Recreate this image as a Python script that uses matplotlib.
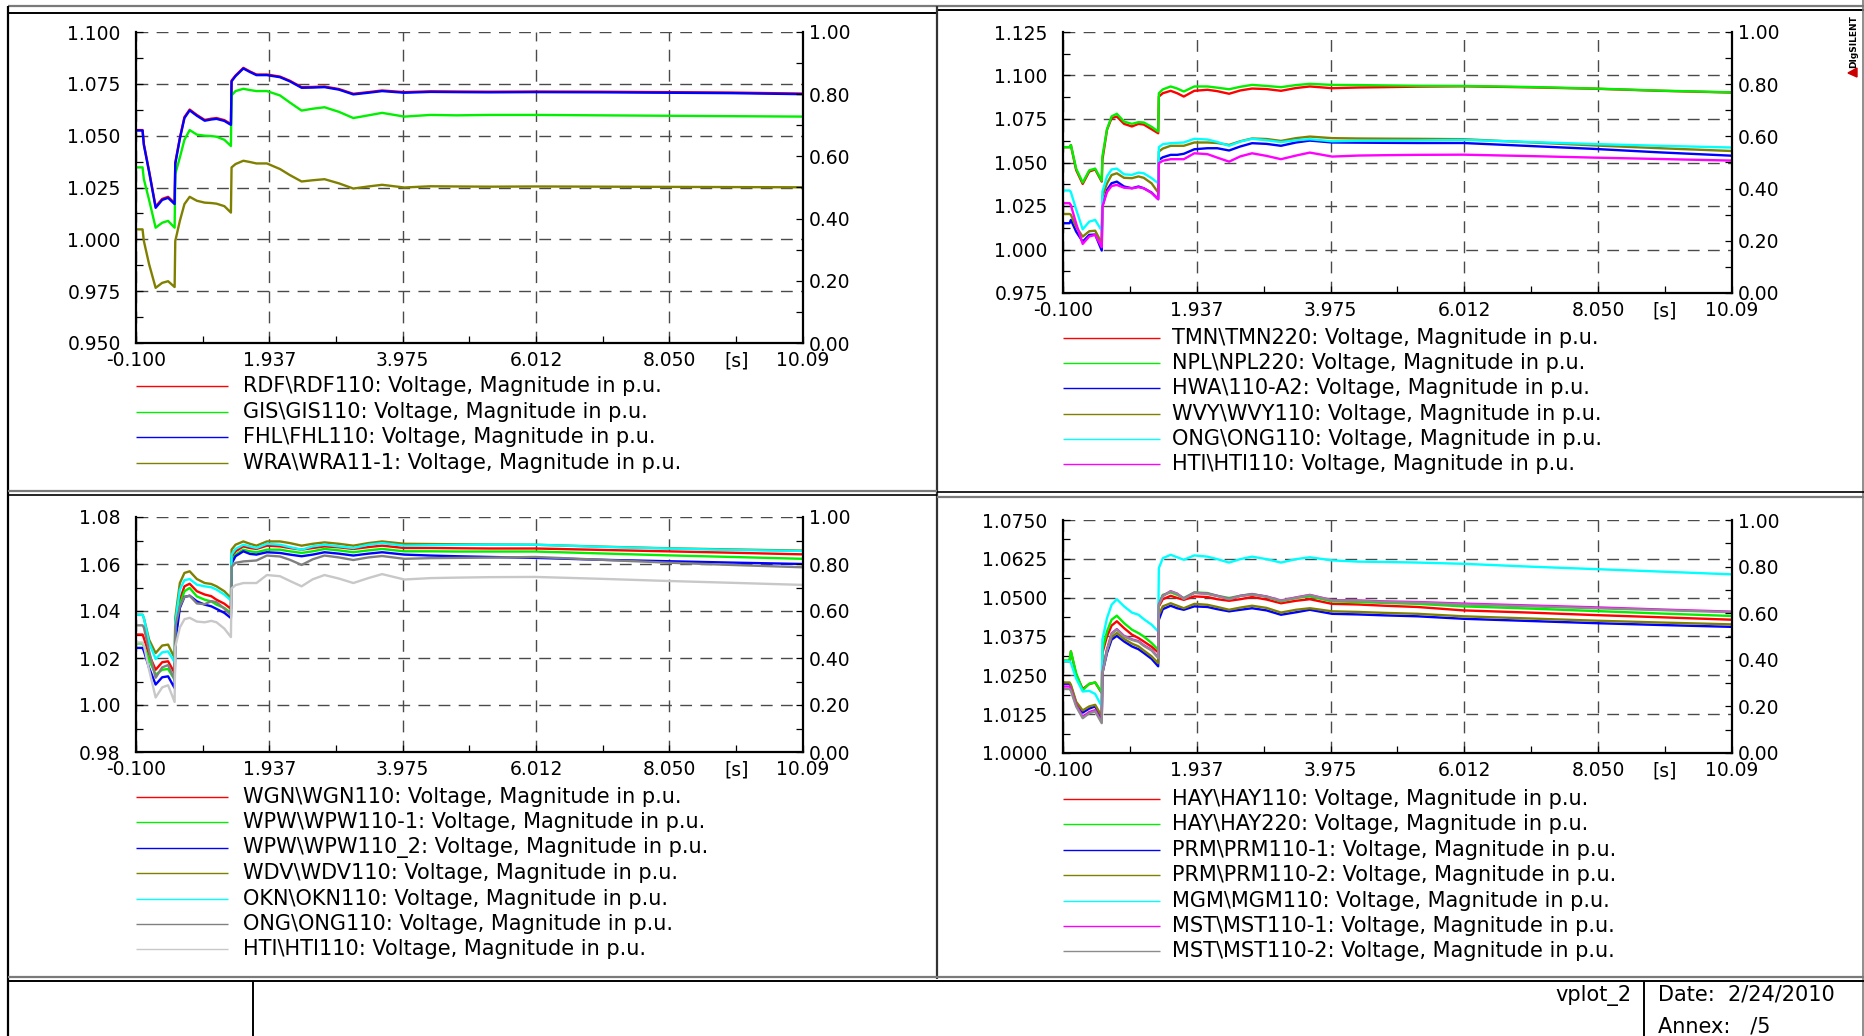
import matplotlib
matplotlib.use("Agg")
import matplotlib.pyplot as plt
from matplotlib.lines import Line2D
from matplotlib.patches import Polygon
from matplotlib.ticker import FixedLocator, FixedFormatter, MultipleLocator, FormatStrFormatter

plt.rcParams['font.family'] = ['DejaVu Sans']

W, H = 1865, 1036

# simulation time [s]
t = [-0.1, 0.0, 0.02, 0.1, 0.2, 0.3, 0.39,
     0.49, 0.5, 0.57, 0.64, 0.72, 0.83, 0.95,
     1.05, 1.13, 1.25, 1.35, 1.36, 1.42, 1.54,
     1.64, 1.74, 1.9, 2.1, 2.25, 2.43, 2.6,
     2.78, 3.0, 3.22, 3.45, 3.66, 4.0, 4.4,
     4.8, 5.3, 6.0, 7.0, 8.0, 9.0, 10.09]

x_major = [-0.1, 1.937, 3.975, 6.012, 8.050, 10.09]
x_labels = ['-0.100', '1.937', '3.975', '6.012', '8.050', '10.09']
x_minor = [0.9185, 2.956, 4.9935, 7.031, 9.07]
x_minor_labels = ['', '', '', '', '[s]']

suffix = ': Voltage, Magnitude in p.u.'

# --- plot 1 ---
rdf110 = [1.0527, 1.0527, 1.0460, 1.0330, 1.0158, 1.0195, 1.0205,
          1.0175, 1.0370, 1.0490, 1.0590, 1.0626, 1.0600, 1.0576,
          1.0582, 1.0585, 1.0575, 1.0556, 1.0766, 1.0790, 1.0827,
          1.0810, 1.0795, 1.0795, 1.0785, 1.0765, 1.0734, 1.0735,
          1.0737, 1.0725, 1.0702, 1.0710, 1.0718, 1.0710, 1.0714,
          1.0713, 1.0712, 1.0713, 1.0712, 1.0710, 1.0708, 1.0703]
gis110 = [1.0347, 1.0347, 1.0290, 1.0190, 1.0056, 1.0080, 1.0089,
          1.0056, 1.0315, 1.0395, 1.0480, 1.0527, 1.0505, 1.0500,
          1.0498, 1.0495, 1.0480, 1.0450, 1.0694, 1.0715, 1.0726,
          1.0720, 1.0715, 1.0715, 1.0694, 1.0660, 1.0621, 1.0630,
          1.0637, 1.0615, 1.0585, 1.0598, 1.0610, 1.0592, 1.0600,
          1.0598, 1.0600, 1.0600, 1.0598, 1.0596, 1.0594, 1.0592]
fhl110 = [1.0525, 1.0525, 1.0455, 1.0325, 1.0152, 1.0190, 1.0200,
          1.0170, 1.0365, 1.0485, 1.0585, 1.0622, 1.0596, 1.0572,
          1.0578, 1.0581, 1.0571, 1.0552, 1.0762, 1.0787, 1.0824,
          1.0807, 1.0792, 1.0792, 1.0782, 1.0762, 1.0731, 1.0732,
          1.0734, 1.0722, 1.0699, 1.0707, 1.0715, 1.0707, 1.0711,
          1.0710, 1.0709, 1.0710, 1.0709, 1.0707, 1.0705, 1.0700]
wra111 = [1.0048, 1.0048, 0.9992, 0.9880, 0.9766, 0.9790, 0.9798,
          0.9770, 0.9992, 1.0089, 1.0170, 1.0205, 1.0186, 1.0177,
          1.0175, 1.0172, 1.0160, 1.0129, 1.0347, 1.0363, 1.0379,
          1.0373, 1.0366, 1.0366, 1.0339, 1.0310, 1.0279, 1.0285,
          1.0290, 1.0270, 1.0245, 1.0255, 1.0263, 1.0250, 1.0256,
          1.0255, 1.0254, 1.0255, 1.0254, 1.0253, 1.0252, 1.0251]
names1 = [r'RDF\RDF110', r'GIS\GIS110', r'FHL\FHL110', r'WRA\WRA11-1']
colors1 = ['#ff0000', '#00f000', '#0000ff', '#808000']

# --- plot 2 ---
tmn220 = [1.0588, 1.0588, 1.0600, 1.0457, 1.0377, 1.0448, 1.0460,
          1.0390, 1.0515, 1.0688, 1.0755, 1.0764, 1.0722, 1.0707,
          1.0722, 1.0718, 1.0691, 1.0668, 1.0879, 1.0898, 1.0912,
          1.0898, 1.0879, 1.0912, 1.0918, 1.0910, 1.0895, 1.0914,
          1.0925, 1.0922, 1.0912, 1.0928, 1.0937, 1.0927, 1.0931,
          1.0933, 1.0936, 1.0938, 1.0932, 1.0924, 1.0912, 1.0902]
npl220 = [1.0588, 1.0588, 1.0600, 1.0465, 1.0385, 1.0455, 1.0465,
          1.0395, 1.0535, 1.0690, 1.0765, 1.0780, 1.0735, 1.0722,
          1.0732, 1.0730, 1.0705, 1.0678, 1.0898, 1.0920, 1.0937,
          1.0925, 1.0908, 1.0937, 1.0937, 1.0930, 1.0921, 1.0935,
          1.0946, 1.0940, 1.0933, 1.0945, 1.0952, 1.0946, 1.0945,
          1.0943, 1.0941, 1.0940, 1.0934, 1.0925, 1.0913, 1.0903]
hwa110 = [1.0151, 1.0151, 1.0170, 1.0103, 1.0045, 1.0084, 1.0086,
          0.9994, 1.0247, 1.0342, 1.0381, 1.0390, 1.0362, 1.0352,
          1.0362, 1.0352, 1.0327, 1.0289, 1.0515, 1.0530, 1.0544,
          1.0544, 1.0550, 1.0576, 1.0582, 1.0582, 1.0569, 1.0592,
          1.0611, 1.0607, 1.0596, 1.0615, 1.0626, 1.0615, 1.0614,
          1.0613, 1.0612, 1.0612, 1.0595, 1.0578, 1.0558, 1.0539]
wvy110 = [1.0204, 1.0204, 1.0200, 1.0130, 1.0074, 1.0105, 1.0108,
          1.0036, 1.0304, 1.0380, 1.0428, 1.0438, 1.0412, 1.0410,
          1.0420, 1.0412, 1.0380, 1.0327, 1.0563, 1.0580, 1.0596,
          1.0596, 1.0596, 1.0615, 1.0615, 1.0612, 1.0601, 1.0622,
          1.0638, 1.0635, 1.0624, 1.0640, 1.0649, 1.0640, 1.0638,
          1.0637, 1.0636, 1.0634, 1.0616, 1.0598, 1.0582, 1.0566]
ong110 = [1.0339, 1.0339, 1.0330, 1.0230, 1.0116, 1.0160, 1.0170,
          1.0108, 1.0333, 1.0420, 1.0460, 1.0465, 1.0432, 1.0429,
          1.0442, 1.0438, 1.0410, 1.0381, 1.0588, 1.0605, 1.0611,
          1.0613, 1.0615, 1.0636, 1.0632, 1.0618, 1.0596, 1.0620,
          1.0636, 1.0628, 1.0617, 1.0628, 1.0634, 1.0622, 1.0625,
          1.0626, 1.0627, 1.0630, 1.0618, 1.0606, 1.0596, 1.0586]
hti110 = [1.0266, 1.0266, 1.0255, 1.0150, 1.0032, 1.0075, 1.0084,
          1.0013, 1.0247, 1.0330, 1.0365, 1.0371, 1.0355, 1.0352,
          1.0358, 1.0352, 1.0325, 1.0289, 1.0496, 1.0510, 1.0519,
          1.0519, 1.0519, 1.0553, 1.0548, 1.0528, 1.0505, 1.0535,
          1.0553, 1.0538, 1.0519, 1.0540, 1.0557, 1.0534, 1.0540,
          1.0542, 1.0544, 1.0545, 1.0537, 1.0528, 1.0520, 1.0511]
names2 = [r'TMN\TMN220', r'NPL\NPL220', r'HWA\110-A2', r'WVY\WVY110',
          r'ONG\ONG110', r'HTI\HTI110']
colors2 = ['#ff0000', '#00f000', '#0000ff', '#808000', '#00ffff', '#ff00ff']

# --- plot 3 ---
wgn110 = [1.0300, 1.0300, 1.0285, 1.0214, 1.0150, 1.0182, 1.0186,
          1.0136, 1.0306, 1.0448, 1.0505, 1.0516, 1.0484, 1.0470,
          1.0463, 1.0448, 1.0431, 1.0409, 1.0626, 1.0654, 1.0675,
          1.0668, 1.0664, 1.0678, 1.0675, 1.0668, 1.0661, 1.0668,
          1.0675, 1.0671, 1.0664, 1.0672, 1.0678, 1.0668, 1.0668,
          1.0667, 1.0666, 1.0666, 1.0660, 1.0654, 1.0648, 1.0641]
wpw110_1 = [1.0262, 1.0262, 1.0250, 1.0193, 1.0129, 1.0150, 1.0153,
            1.0108, 1.0285, 1.0427, 1.0484, 1.0498, 1.0462, 1.0448,
            1.0441, 1.0427, 1.0413, 1.0392, 1.0611, 1.0640, 1.0661,
            1.0654, 1.0650, 1.0661, 1.0661, 1.0654, 1.0647, 1.0654,
            1.0664, 1.0658, 1.0650, 1.0658, 1.0664, 1.0654, 1.0654,
            1.0653, 1.0653, 1.0653, 1.0645, 1.0637, 1.0630, 1.0622]
wpw110_2 = [1.0243, 1.0243, 1.0230, 1.0158, 1.0087, 1.0118, 1.0122,
            1.0072, 1.0264, 1.0413, 1.0460, 1.0465, 1.0441, 1.0427,
            1.0420, 1.0409, 1.0392, 1.0370, 1.0601, 1.0633, 1.0654,
            1.0643, 1.0640, 1.0650, 1.0647, 1.0640, 1.0633, 1.0640,
            1.0650, 1.0644, 1.0636, 1.0644, 1.0650, 1.0640, 1.0636,
            1.0633, 1.0630, 1.0626, 1.0618, 1.0612, 1.0606, 1.0600]
wdv110 = [1.0384, 1.0384, 1.0370, 1.0278, 1.0221, 1.0253, 1.0257,
          1.0200, 1.0370, 1.0519, 1.0562, 1.0569, 1.0536, 1.0519,
          1.0515, 1.0505, 1.0484, 1.0455, 1.0661, 1.0682, 1.0696,
          1.0686, 1.0678, 1.0696, 1.0696, 1.0689, 1.0678, 1.0686,
          1.0692, 1.0686, 1.0678, 1.0689, 1.0696, 1.0686, 1.0685,
          1.0684, 1.0683, 1.0682, 1.0674, 1.0667, 1.0662, 1.0657]
okn110 = [1.0384, 1.0384, 1.0370, 1.0264, 1.0196, 1.0224, 1.0228,
          1.0182, 1.0349, 1.0491, 1.0531, 1.0536, 1.0512, 1.0505,
          1.0501, 1.0491, 1.0470, 1.0445, 1.0640, 1.0664, 1.0682,
          1.0675, 1.0668, 1.0686, 1.0682, 1.0672, 1.0661, 1.0675,
          1.0682, 1.0675, 1.0668, 1.0682, 1.0689, 1.0678, 1.0680,
          1.0681, 1.0682, 1.0682, 1.0673, 1.0666, 1.0660, 1.0655]
names3 = [r'WGN\WGN110', r'WPW\WPW110-1', r'WPW\WPW110_2', r'WDV\WDV110',
          r'OKN\OKN110', r'ONG\ONG110', r'HTI\HTI110']
colors3 = ['#ff0000', '#00f000', '#0000ff', '#808000', '#00ffff', '#808080', '#c8c8c8']

# --- plot 4 ---
hay110 = [1.0295, 1.0295, 1.0327, 1.0252, 1.0206, 1.0222, 1.0227,
          1.0193, 1.0322, 1.0375, 1.0410, 1.0424, 1.0402, 1.0381,
          1.0370, 1.0359, 1.0342, 1.0324, 1.0472, 1.0495, 1.0506,
          1.0499, 1.0493, 1.0504, 1.0502, 1.0495, 1.0490, 1.0495,
          1.0502, 1.0494, 1.0482, 1.0490, 1.0495, 1.0480, 1.0478,
          1.0474, 1.0470, 1.0459, 1.0452, 1.0444, 1.0437, 1.0429]
hay220 = [1.0298, 1.0298, 1.0327, 1.0257, 1.0202, 1.0223, 1.0227,
          1.0195, 1.0332, 1.0391, 1.0429, 1.0442, 1.0418, 1.0397,
          1.0386, 1.0375, 1.0354, 1.0332, 1.0482, 1.0509, 1.0517,
          1.0509, 1.0499, 1.0517, 1.0515, 1.0506, 1.0499, 1.0506,
          1.0512, 1.0503, 1.0488, 1.0499, 1.0504, 1.0488, 1.0486,
          1.0483, 1.0480, 1.0472, 1.0465, 1.0457, 1.0449, 1.0441]
prm110_1 = [1.0223, 1.0223, 1.0215, 1.0160, 1.0130, 1.0143, 1.0150,
            1.0107, 1.0257, 1.0322, 1.0365, 1.0377, 1.0359, 1.0343,
            1.0334, 1.0322, 1.0303, 1.0279, 1.0429, 1.0463, 1.0474,
            1.0466, 1.0461, 1.0472, 1.0470, 1.0463, 1.0456, 1.0461,
            1.0466, 1.0459, 1.0445, 1.0453, 1.0461, 1.0448, 1.0446,
            1.0443, 1.0440, 1.0432, 1.0425, 1.0418, 1.0412, 1.0406]
prm110_2 = [1.0227, 1.0227, 1.0220, 1.0165, 1.0137, 1.0150, 1.0155,
            1.0118, 1.0268, 1.0332, 1.0373, 1.0386, 1.0367, 1.0352,
            1.0343, 1.0330, 1.0311, 1.0289, 1.0445, 1.0472, 1.0482,
            1.0474, 1.0466, 1.0480, 1.0477, 1.0470, 1.0461, 1.0468,
            1.0474, 1.0467, 1.0452, 1.0461, 1.0466, 1.0456, 1.0454,
            1.0451, 1.0448, 1.0440, 1.0433, 1.0426, 1.0420, 1.0414]
mgm110 = [1.0295, 1.0295, 1.0290, 1.0240, 1.0198, 1.0200, 1.0190,
          1.0150, 1.0365, 1.0434, 1.0477, 1.0495, 1.0472, 1.0452,
          1.0445, 1.0431, 1.0413, 1.0391, 1.0595, 1.0627, 1.0638,
          1.0630, 1.0622, 1.0636, 1.0632, 1.0624, 1.0613, 1.0624,
          1.0632, 1.0624, 1.0613, 1.0624, 1.0630, 1.0620, 1.0616,
          1.0615, 1.0613, 1.0609, 1.0600, 1.0592, 1.0584, 1.0575]
mst110_1 = [1.0214, 1.0214, 1.0205, 1.0155, 1.0116, 1.0132, 1.0138,
            1.0100, 1.0258, 1.0333, 1.0385, 1.0399, 1.0377, 1.0366,
            1.0360, 1.0347, 1.0332, 1.0308, 1.0478, 1.0506, 1.0521,
            1.0513, 1.0497, 1.0516, 1.0513, 1.0506, 1.0496, 1.0506,
            1.0511, 1.0504, 1.0491, 1.0501, 1.0509, 1.0492, 1.0491,
            1.0488, 1.0486, 1.0481, 1.0475, 1.0469, 1.0462, 1.0455]
mst110_2 = [1.0206, 1.0206, 1.0200, 1.0150, 1.0112, 1.0128, 1.0134,
            1.0096, 1.0255, 1.0330, 1.0383, 1.0397, 1.0375, 1.0364,
            1.0358, 1.0345, 1.0330, 1.0306, 1.0476, 1.0505, 1.0520,
            1.0512, 1.0496, 1.0515, 1.0512, 1.0505, 1.0495, 1.0505,
            1.0510, 1.0503, 1.0490, 1.0500, 1.0508, 1.0491, 1.0490,
            1.0486, 1.0484, 1.0478, 1.0472, 1.0466, 1.0460, 1.0453]
names4 = [r'HAY\HAY110', r'HAY\HAY220', r'PRM\PRM110-1', r'PRM\PRM110-2',
          r'MGM\MGM110', r'MST\MST110-1', r'MST\MST110-2']
colors4 = ['#ff0000', '#00f000', '#0000ff', '#808000', '#00ffff', '#ff00ff', '#8c8c8c']

FS = 13.5
FS_LEG = 15
fig = plt.figure(figsize=(W / 100, H / 100), dpi=100)


def fx(x):
    return x / W


def fy(y):
    return 1 - y / H


def line(xs, ys, color='black', lw=1.4):
    fig.add_artist(Line2D([fx(x) for x in xs], [fy(y) for y in ys], color=color, lw=lw,
                          transform=fig.transFigure, solid_capstyle='butt'))


def panel(box, ylim, ystep, yfmt, curves, colors, names, legend_rows, leg_x):
    x0, y0, x1, y1 = box
    ax = fig.add_axes([fx(x0), fy(y1), (x1 - x0) / W, (y1 - y0) / H])
    for vals, c in zip(curves, colors):
        ax.plot(t, vals, color=c, lw=1.7, solid_joinstyle='round')
    ax.set_xlim(-0.1, 10.09)
    ax.set_ylim(*ylim)
    ax.xaxis.set_major_locator(FixedLocator(x_major))
    ax.xaxis.set_major_formatter(FixedFormatter(x_labels))
    ax.xaxis.set_minor_locator(FixedLocator(x_minor))
    ax.xaxis.set_minor_formatter(FixedFormatter(x_minor_labels))
    ax.yaxis.set_major_locator(MultipleLocator(ystep))
    ax.yaxis.set_minor_locator(MultipleLocator(ystep / 2))
    ax.yaxis.set_major_formatter(FormatStrFormatter(yfmt))
    ax.grid(True, which='major', color='#4a4a4a', lw=1.0, ls=(0, (8.5, 6)))
    ax.spines['top'].set_visible(False)
    ax.spines['right'].set_visible(False)
    for s in ('left', 'bottom'):
        ax.spines[s].set_linewidth(1.6)
    ax.tick_params(axis='both', which='both', direction='in', length=5, width=0.9,
                   labelsize=FS)
    ax.tick_params(axis='y', which='both', pad=11)
    ax.tick_params(axis='x', which='both', pad=6)

    rax = ax.twinx()
    rax.set_ylim(0, 1)
    rax.yaxis.set_major_locator(MultipleLocator(0.2))
    rax.yaxis.set_minor_locator(MultipleLocator(0.1))
    rax.yaxis.set_major_formatter(FormatStrFormatter('%.2f'))
    for s in ('top', 'left', 'bottom'):
        rax.spines[s].set_visible(False)
    rax.spines['right'].set_linewidth(1.6)
    rax.tick_params(axis='y', which='both', direction='in', length=5, width=0.9,
                    labelsize=FS, pad=4)

    # legend rows below the axes
    for yr, c, n in zip(legend_rows, colors, names):
        line([x0, leg_x[0]], [yr, yr], color=c, lw=1.0)
        fig.text(fx(leg_x[1]), fy(yr), n + suffix, fontsize=FS_LEG, ha='left', va='center')
    return ax


panel((136, 32, 803, 343), (0.95, 1.10), 0.025, '%.3f',
      [rdf110, gis110, fhl110, wra111], colors1, names1,
      [386, 412, 437, 463], (228, 243))
panel((1063, 32, 1732, 293), (0.975, 1.125), 0.025, '%.3f',
      [tmn220, npl220, hwa110, wvy110, ong110, hti110], colors2, names2,
      [338, 363, 388, 414, 439, 464], (1160, 1172))
panel((136, 517, 803, 752), (0.98, 1.08), 0.02, '%.2f',
      [wgn110, wpw110_1, wpw110_2, wdv110, okn110, ong110, hti110], colors3, names3,
      [797, 822, 848, 873, 899, 924, 949], (228, 243))
panel((1063, 520, 1732, 753), (1.0, 1.075), 0.0125, '%.4f',
      [hay110, hay220, prm110_1, prm110_2, mgm110, mst110_1, mst110_2], colors4, names4,
      [799, 824, 850, 875, 901, 926, 951], (1160, 1172))

# page frame
line([8, W], [6, 6], color='#7a7a7a', lw=1.6)
line([8, 937], [13, 13], lw=1.4)
line([937, W], [10, 10], lw=1.4)
line([8, 8], [6, H], lw=1.6)
line([W - 2, W - 2], [0, H], color='#7a7a7a', lw=1.2)
line([937, 937], [6, 979], color='#333333', lw=1.6)
line([8, 937], [491, 491], color='#7a7a7a', lw=1.6)
line([8, 937], [495, 495], lw=1.2)
line([937, W], [492, 492], lw=1.2)
line([937, W], [497, 497], color='#7a7a7a', lw=1.6)
line([8, W], [977, 977], color='#7a7a7a', lw=1.6)
line([8, W], [981, 981], lw=1.4)
line([253, 253], [981, H], lw=1.4)
line([1644, 1644], [981, H], lw=1.4)

# title block
fig.text(fx(1632), fy(995), 'vplot_2', fontsize=FS_LEG, ha='right', va='center')
fig.text(fx(1658), fy(995), 'Date:  2/24/2010', fontsize=FS_LEG, ha='left', va='center')
fig.text(fx(1658), fy(1026), 'Annex:   /5', fontsize=FS_LEG, ha='left', va='center')

# logo
fig.text(fx(1854), fy(42), 'DIgSILENT', fontsize=6.5, fontweight='bold',
         rotation=90, ha='center', va='center')
fig.add_artist(Polygon([(fx(1848), fy(73)), (fx(1857), fy(68)), (fx(1857), fy(77))],
                       closed=True, color='#cc0000', transform=fig.transFigure))

fig.savefig('out.png', dpi=100)
